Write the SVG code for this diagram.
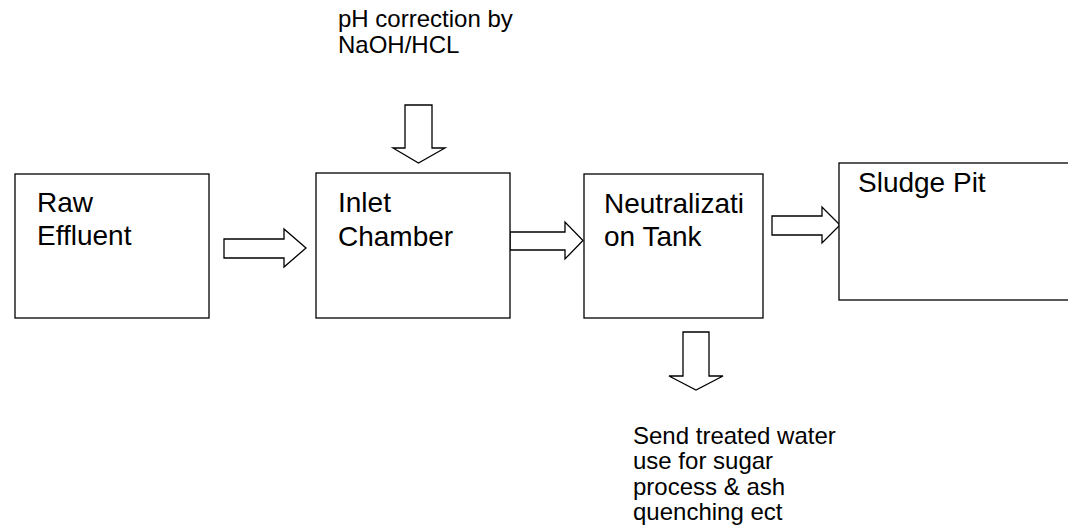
<svg xmlns="http://www.w3.org/2000/svg" width="1068" height="532" viewBox="0 0 1068 532">
<style>
.box{fill:#fff;stroke:#000;stroke-width:1.3}
.arr{fill:#fff;stroke:#000;stroke-width:1.3;stroke-linejoin:miter}
.lbl{font-family:"Liberation Sans",Arial,sans-serif;font-size:28px;fill:#000}
.note{font-family:"Liberation Sans",Arial,sans-serif;font-size:24px;fill:#000}
</style>
<rect width="1068" height="532" fill="#fff"/>
<g id="connectors">
<polygon class="arr" points="224,239 284,239 284,229 306,248 284,267 284,258 224,258"/>
<polygon class="arr" points="510,232 565,232 565,222 583,240.5 565,259 565,250 510,250"/>
<polygon class="arr" points="772,216 822,216 822,207 840,225 822,243 822,235 772,235"/>
<polygon class="arr" points="405,105 432,105 432,148 445,148 418.5,163 393,148 405,148"/>
<polygon class="arr" points="683,332 709,332 709,376 723,376 696,390 669,376 683,376"/>
</g>
<g id="raw-effluent">
<rect class="box" x="15" y="174" width="194" height="144"/>
<text class="lbl" x="37" y="212">Raw</text>
<text class="lbl" x="37" y="245">Effluent</text>
</g>
<g id="inlet-chamber">
<rect class="box" x="316" y="173" width="194" height="145"/>
<text class="lbl" x="338" y="212">Inlet</text>
<text class="lbl" x="338" y="246">Chamber</text>
</g>
<g id="neutralization-tank">
<rect class="box" x="584" y="174" width="179" height="144"/>
<text class="lbl" x="604" y="213">Neutralizati</text>
<text class="lbl" x="604" y="246">on Tank</text>
</g>
<g id="sludge-pit">
<rect class="box" x="839" y="163" width="240" height="137"/>
<text class="lbl" x="858" y="192">Sludge Pit</text>
</g>
<g id="ph-note">
<text class="note" x="338" y="27">pH correction by</text>
<text class="note" x="338" y="53">NaOH/HCL</text>
</g>
<g id="output-note">
<text class="note" x="633" y="444">Send treated water</text>
<text class="note" x="633" y="469">use for sugar</text>
<text class="note" x="633" y="495">process &amp; ash</text>
<text class="note" x="633" y="520">quenching ect</text>
</g>
</svg>
